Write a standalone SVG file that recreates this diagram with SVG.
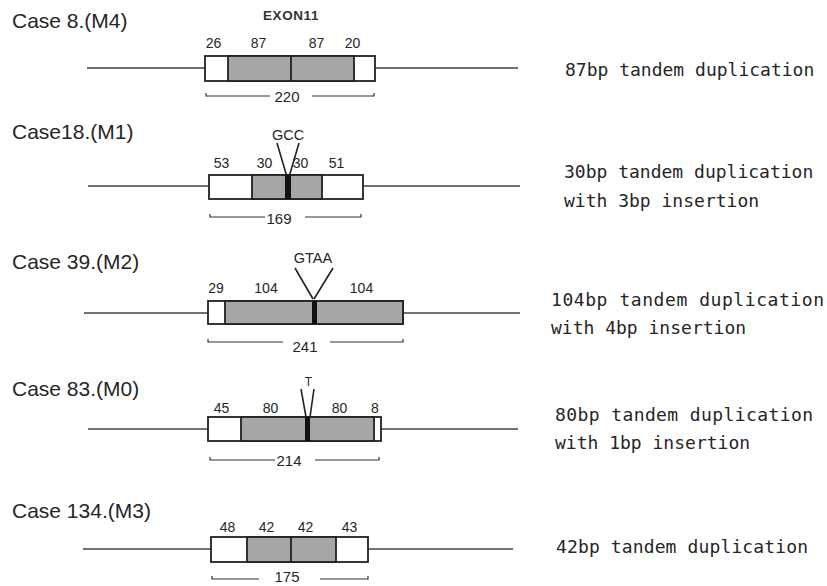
<svg xmlns="http://www.w3.org/2000/svg" width="827" height="586" viewBox="0 0 827 586">
<style>
.case{font-family:"Liberation Sans",Arial,sans-serif;font-size:21px;fill:#262626}
.num{font-family:"Liberation Sans",Arial,sans-serif;font-size:14px;fill:#262626;text-anchor:middle}
.len{font-family:"Liberation Sans",Arial,sans-serif;font-size:15px;fill:#262626;text-anchor:middle}
.ins{font-family:"Liberation Sans",Arial,sans-serif;font-size:14.5px;fill:#262626;text-anchor:middle}
.desc{font-family:"DejaVu Sans Mono",monospace;font-size:18px;fill:#262626}
.ln{stroke:#444;stroke-width:1.3;fill:none}
.br{stroke:#333;stroke-width:1.2;fill:none}
.w{fill:#fff;stroke:#222;stroke-width:1.8}
.g{fill:#a6a6a8;stroke:#222;stroke-width:1.8}
.k{fill:#111}
.v{stroke:#222;stroke-width:1.6;fill:none}
</style>
<rect width="827" height="586" fill="#fff"/>

<g id="case8">
<text class="case" x="12" y="28">Case 8.(M4)</text>
<text x="291" y="20" font-family="Liberation Sans,Arial,sans-serif" font-size="13.5" font-weight="bold" fill="#333" text-anchor="middle" letter-spacing="0.6">EXON11</text>
<path class="ln" d="M87 68H205M375 68H518"/>
<rect class="w" x="205" y="56" width="170" height="25"/>
<rect class="g" x="228" y="56" width="126" height="25"/>
<path d="M291 56V81" stroke="#222" stroke-width="1.8"/>
<text class="num" x="213.5" y="48">26</text>
<text class="num" x="258.5" y="48">87</text>
<text class="num" x="316.5" y="48">87</text>
<text class="num" x="352.5" y="48">20</text>
<path class="br" d="M206 93V96H270M312 96H374V93"/>
<text class="len" x="287" y="102">220</text>
<text class="desc" x="565" y="76">87bp tandem duplication</text>
</g>

<g id="case18">
<text class="case" x="12" y="139">Case18.(M1)</text>
<text class="ins" x="288" y="140">GCC</text>
<path class="v" d="M277 143L287 177M299 143L289 177"/>
<path class="ln" d="M88 186H209M363 186H520"/>
<rect class="w" x="209" y="175" width="154" height="24"/>
<rect class="g" x="252" y="175" width="70" height="24"/>
<rect class="k" x="285" y="175" width="6" height="24"/>
<text class="num" x="221.5" y="168">53</text>
<text class="num" x="264.5" y="168">30</text>
<text class="num" x="300.5" y="168">30</text>
<text class="num" x="336.5" y="168">51</text>
<path class="br" d="M210 214V217H265M305 217H361V214"/>
<text class="len" x="279" y="224">169</text>
<text class="desc" x="564" y="178">30bp tandem duplication</text>
<text class="desc" x="564" y="207">with 3bp insertion</text>
</g>

<g id="case39">
<text class="case" x="12" y="269">Case 39.(M2)</text>
<text class="ins" x="313" y="263">GTAA</text>
<path class="v" d="M295 268L313 299M333 268L314 299"/>
<path class="ln" d="M84 313H208M403 313H520"/>
<rect class="w" x="208" y="301" width="195" height="23"/>
<rect class="g" x="225" y="301" width="178" height="23"/>
<rect class="k" x="312" y="301" width="5" height="23"/>
<text class="num" x="216" y="293">29</text>
<text class="num" x="266" y="293">104</text>
<text class="num" x="361.5" y="293">104</text>
<path class="br" d="M208 339V342H283M330 342H403V339"/>
<text class="len" x="305" y="352">241</text>
<text class="desc" x="551" y="306" textLength="273">104bp tandem duplication</text>
<text class="desc" x="551" y="334">with 4bp insertion</text>
</g>

<g id="case83">
<text class="case" x="12" y="396">Case 83.(M0)</text>
<text x="308.5" y="386" font-family="Liberation Sans,Arial,sans-serif" font-size="12" fill="#262626" text-anchor="middle">T</text>
<path class="v" d="M301 389L306 417M314 389L310 417"/>
<path class="ln" d="M88 429H208M381 429H518"/>
<rect class="w" x="208" y="417" width="173" height="24"/>
<rect class="g" x="241" y="417" width="133" height="24"/>
<rect class="k" x="305" y="417" width="5" height="24"/>
<text class="num" x="221.5" y="413">45</text>
<text class="num" x="270.5" y="413">80</text>
<text class="num" x="339.5" y="413">80</text>
<text class="num" x="375" y="413">8</text>
<path class="br" d="M210 457V460H275M315 460H379V457"/>
<text class="len" x="289" y="466">214</text>
<text class="desc" x="555" y="421" textLength="258">80bp tandem duplication</text>
<text class="desc" x="555" y="449">with 1bp insertion</text>
</g>

<g id="case134">
<text class="case" x="12" y="518">Case 134.(M3)</text>
<path class="ln" d="M83 549H211M368 549H513"/>
<rect class="w" x="211" y="537" width="157" height="25"/>
<rect class="g" x="247" y="537" width="89" height="25"/>
<path d="M291 537V562" stroke="#222" stroke-width="1.8"/>
<text class="num" x="227.5" y="532">48</text>
<text class="num" x="266.5" y="532">42</text>
<text class="num" x="305.5" y="532">42</text>
<text class="num" x="349.5" y="532">43</text>
<path class="br" d="M212 576V579H259M320 579H368V576"/>
<text class="len" x="287" y="582">175</text>
<text class="desc" x="556" y="553" textLength="252">42bp tandem duplication</text>
</g>
</svg>
